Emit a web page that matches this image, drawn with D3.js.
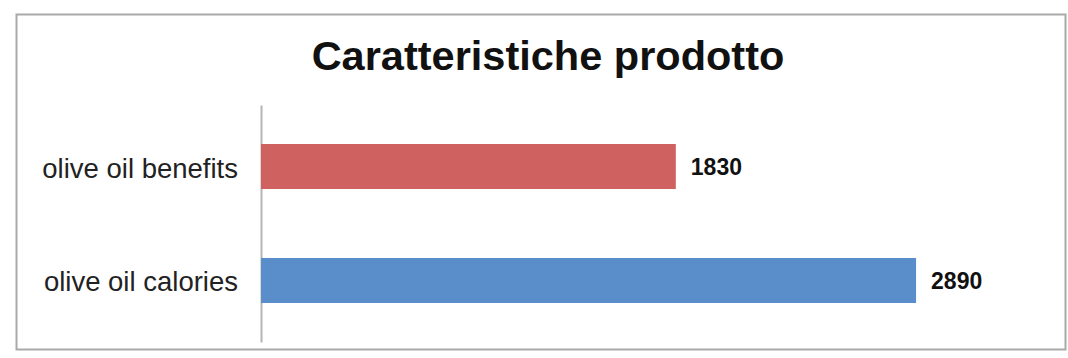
<!DOCTYPE html>
<html>
<head>
<meta charset="utf-8">
<script src="https://cdn.jsdelivr.net/npm/d3@7"></script>
<style>
  html, body { margin: 0; padding: 0; background: #fff; }
  svg { display: block; }
</style>
</head>
<body>
<div id="chart"></div>
<script>
// Chart data
const title = "Caratteristiche prodotto";
const categories = ["olive oil benefits", "olive oil calories"];
const values = [1830, 2890];
const barColors = ["#cf6260", "#5a8ecb"];

const W = 1068, H = 358;
const svg = d3.select("#chart").append("svg")
  .attr("width", W).attr("height", H);

// Frame around the chart area
svg.append("rect")
  .attr("x", 16.5).attr("y", 14.5)
  .attr("width", 1049).attr("height", 335)
  .attr("fill", "#fff")
  .attr("stroke", "#a9a9a9")
  .attr("stroke-width", 2);

// Title
svg.append("text")
  .attr("x", 548).attr("y", 70)
  .attr("text-anchor", "middle")
  .attr("font-family", "Liberation Sans, Arial, sans-serif")
  .attr("font-weight", "bold")
  .attr("font-size", 41.5)
  .attr("fill", "#111")
  .text(title);

// Scales
const x = d3.scaleLinear().domain([0, 3000]).range([261, 941]);
const y = d3.scaleBand().domain(categories).range([105, 342])
  .paddingInner(0.605).paddingOuter(0.342).align(0.5);

// Category axis (line only, labels to the left)
const yAxis = d3.axisLeft(y).tickSize(0).tickPadding(23);
const axisG = svg.append("g")
  .attr("transform", `translate(${x(0)},0)`)
  .call(yAxis);
axisG.select(".domain")
  .attr("stroke", "#b5b5b5")
  .attr("stroke-width", 2);
axisG.selectAll(".tick text")
  .attr("font-family", "Liberation Sans, Arial, sans-serif")
  .attr("font-size", 27.5)
  .attr("fill", "#222")
  .attr("dy", "0.4em");

// Bars
svg.append("g").selectAll("rect")
  .data(values)
  .join("rect")
  .attr("x", x(0))
  .attr("y", (d, i) => y(categories[i]))
  .attr("width", d => x(d) - x(0))
  .attr("height", y.bandwidth())
  .attr("fill", (d, i) => barColors[i]);

// Value labels
svg.append("g").selectAll("text")
  .data(values)
  .join("text")
  .attr("x", d => x(d) + 15)
  .attr("y", (d, i) => y(categories[i]) + y.bandwidth() / 2)
  .attr("dy", "0.36em")
  .attr("font-family", "Liberation Sans, Arial, sans-serif")
  .attr("font-weight", "bold")
  .attr("font-size", 23)
  .attr("fill", "#111")
  .text(d => d);
</script>
</body>
</html>
